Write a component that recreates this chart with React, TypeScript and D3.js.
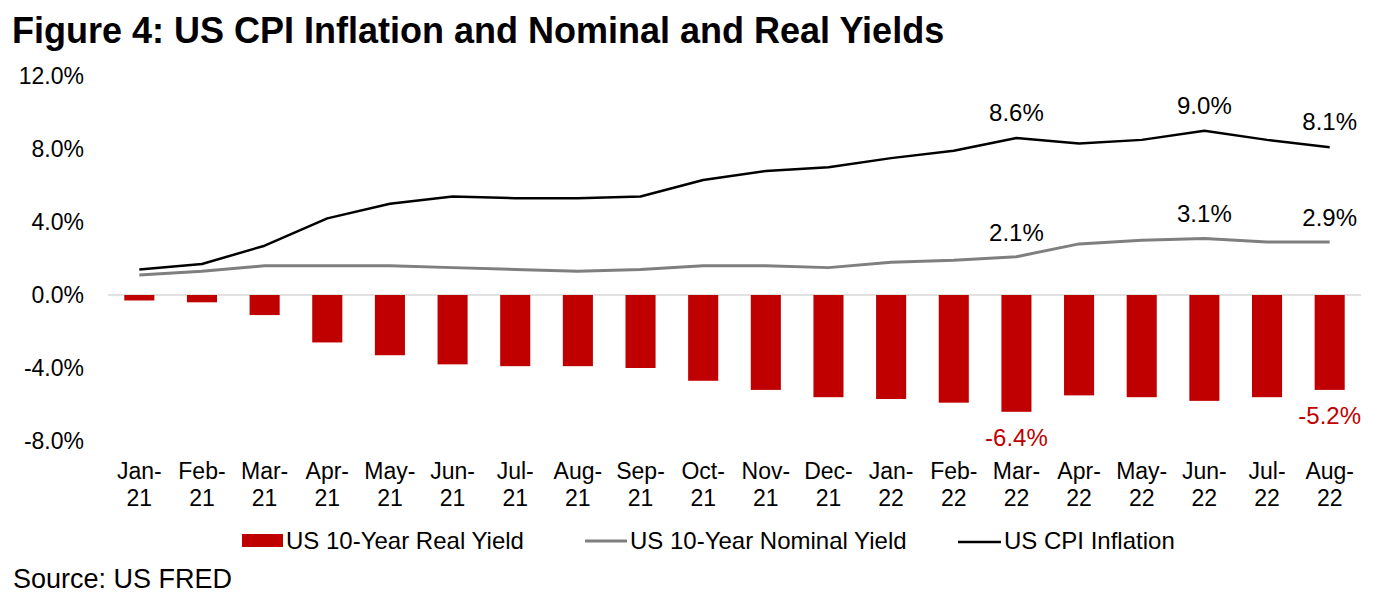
import * as d3 from 'd3';

const months = [
  'Jan-21', 'Feb-21', 'Mar-21', 'Apr-21', 'May-21', 'Jun-21', 'Jul-21', 'Aug-21', 'Sep-21', 'Oct-21',
  'Nov-21', 'Dec-21', 'Jan-22', 'Feb-22', 'Mar-22', 'Apr-22', 'May-22', 'Jun-22', 'Jul-22', 'Aug-22',
];

// US 10-Year Real Yield (%)
const realYield = [
  -0.3, -0.4, -1.1, -2.6, -3.3, -3.8, -3.9, -3.9, -4.0, -4.7,
  -5.2, -5.6, -5.7, -5.9, -6.4, -5.5, -5.6, -5.8, -5.6, -5.2,
];

// US 10-Year Nominal Yield (%)
const nominalYield = [
  1.1, 1.3, 1.6, 1.6, 1.6, 1.5, 1.4, 1.3, 1.4, 1.6,
  1.6, 1.5, 1.8, 1.9, 2.1, 2.8, 3.0, 3.1, 2.9, 2.9,
];

// US CPI Inflation (%)
const cpi = [
  1.4, 1.7, 2.7, 4.2, 5.0, 5.4, 5.3, 5.3, 5.4, 6.3,
  6.8, 7.0, 7.5, 7.9, 8.6, 8.3, 8.5, 9.0, 8.5, 8.1,
];

const yTicks = [-8, -4, 0, 4, 8, 12];

// which points get a value label
const cpiLabelIdx = [14, 17, 19];
const nominalLabelIdx = [14, 17, 19];
const realLabelIdx = [14, 19];

const W = 1384;
const H = 612;
const RED = '#C00000';
const GRAY = '#7F7F7F';
const FONT = '"Liberation Sans", Arial, sans-serif';

export default function App() {
  const x = d3.scaleBand<string>()
    .domain(months)
    .range([108, 1361])
    .paddingInner(0.52)
    .paddingOuter(0.26);

  const y = d3.scaleLinear().domain([-8, 12]).range([441, 76]);

  const cx = (i: number) => (x(months[i]) as number) + x.bandwidth() / 2;

  const line = d3.line<number>()
    .x((_, i) => cx(i))
    .y(d => y(d));

  const fmt = (v: number) => v.toFixed(1) + '%';

  return (
    <svg width={W} height={H} style={{ position: 'absolute', left: 0, top: 0, background: '#fff' }} fontFamily={FONT}>
      <text x={12} y={43} fontSize={36} fontWeight="bold" fill="#000">
        Figure 4: US CPI Inflation and Nominal and Real Yields
      </text>

      {yTicks.map(t => (
        <text key={t} x={84} y={y(t) + 8} fontSize={23} textAnchor="end" fill="#000">
          {t.toFixed(1) + '%'}
        </text>
      ))}

      <line x1={108} x2={1361} y1={y(0)} y2={y(0)} stroke="#D9D9D9" strokeWidth={1.5} />

      {realYield.map((v, i) => (
        <rect
          key={months[i]}
          x={x(months[i])}
          y={y(Math.max(0, v))}
          width={x.bandwidth()}
          height={Math.abs(y(v) - y(0))}
          fill={RED}
        />
      ))}

      <path d={line(nominalYield) || ''} fill="none" stroke={GRAY} strokeWidth={3} strokeLinejoin="round" />
      <path d={line(cpi) || ''} fill="none" stroke="#000" strokeWidth={2.5} strokeLinejoin="round" />

      {cpiLabelIdx.map(i => (
        <text key={'c' + i} x={cx(i)} y={y(cpi[i]) - 17} fontSize={24} textAnchor="middle" fill="#000">
          {fmt(cpi[i])}
        </text>
      ))}
      {nominalLabelIdx.map(i => (
        <text key={'n' + i} x={cx(i)} y={y(nominalYield[i]) - 16} fontSize={24} textAnchor="middle" fill="#000">
          {fmt(nominalYield[i])}
        </text>
      ))}
      {realLabelIdx.map(i => (
        <text key={'r' + i} x={cx(i)} y={y(realYield[i]) + 34} fontSize={24} textAnchor="middle" fill={RED}>
          {fmt(realYield[i])}
        </text>
      ))}

      {months.map((m, i) => {
        const [mon, yr] = m.split('-');
        return (
          <text key={m} x={cx(i)} fontSize={23} textAnchor="middle" fill="#000">
            <tspan x={cx(i)} y={479}>{mon + '-'}</tspan>
            <tspan x={cx(i)} y={506}>{yr}</tspan>
          </text>
        );
      })}

      <g fontSize={24} fill="#000">
        <rect x={242} y={534} width={41} height={13} fill={RED} />
        <text x={286} y={549}>US 10-Year Real Yield</text>
        <line x1={585} x2={627} y1={541} y2={541} stroke={GRAY} strokeWidth={3} />
        <text x={630} y={549}>US 10-Year Nominal Yield</text>
        <line x1={958} x2={1001} y1={542} y2={542} stroke="#000" strokeWidth={2.5} />
        <text x={1004} y={549}>US CPI Inflation</text>
      </g>

      <text x={13} y={588} fontSize={27} fill="#000">Source: US FRED</text>
    </svg>
  );
}
